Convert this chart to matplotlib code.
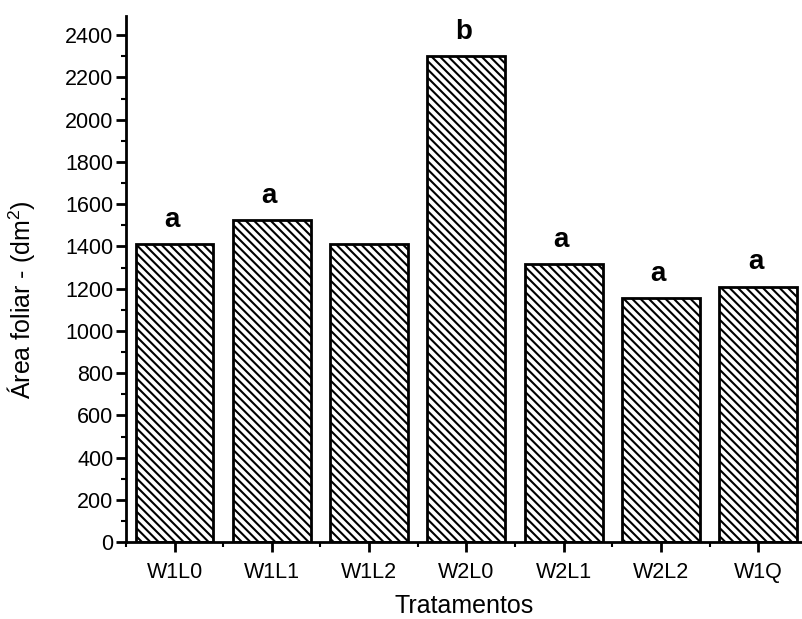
import numpy as np
import matplotlib as mpl
mpl.use('Agg')
import matplotlib.pyplot as plt
from matplotlib.ticker import MultipleLocator, FixedLocator

plt.rcParams.update({
    "font.family": "Liberation Sans",
    "mathtext.fontset": "custom",
    "mathtext.rm": "Liberation Sans",
    "mathtext.it": "Liberation Sans:italic",
    "hatch.linewidth": 1.5,
})

# data
tratamentos = ["W1L0", "W1L1", "W1L2", "W2L0", "W2L1", "W2L2", "W1Q"]
area_foliar = [1410, 1525, 1410, 2300, 1315, 1155, 1210]
letras = ["a", "a", "", "b", "a", "a", "a"]

fig = plt.figure(figsize=(8.02, 6.19), dpi=100)
ax = fig.add_axes([0.157, 0.124, 0.843, 0.850])

x = np.arange(len(tratamentos))
bars = ax.bar(x, area_foliar, width=0.8, color="white", edgecolor="black",
              linewidth=2, hatch="\\\\\\\\")

for xi, val, let in zip(x, area_foliar, letras):
    if let:
        ax.annotate(let, (xi, val), xytext=(-2, 8), textcoords="offset points",
                    ha="center", va="bottom", fontsize=20, fontweight="bold")

ax.set_xlim(-0.5, 6.45)
ax.set_ylim(0, 2490)
ax.set_xticks(x)
ax.set_xticklabels(tratamentos)
ax.xaxis.set_minor_locator(FixedLocator(np.arange(-0.5, 6.6, 1.0)))
ax.yaxis.set_major_locator(MultipleLocator(200))
ax.yaxis.set_minor_locator(MultipleLocator(100))

for s in ["top", "right"]:
    ax.spines[s].set_visible(False)
for s in ["left", "bottom"]:
    ax.spines[s].set_linewidth(2)

ax.tick_params(which="major", direction="out", length=7, width=2, labelsize=15.5)
ax.tick_params(which="minor", direction="out", length=3.5, width=1.5)
ax.tick_params(axis="x", pad=7)
ax.tick_params(axis="y", pad=2)

ax.set_xlabel("Tratamentos", fontsize=18, labelpad=8)
ax.set_ylabel("Área foliar - (dm$^2$)", fontsize=18)
ax.yaxis.set_label_coords(-0.132, 0.462)

plt.savefig("out.png", dpi=100)
plt.close()
